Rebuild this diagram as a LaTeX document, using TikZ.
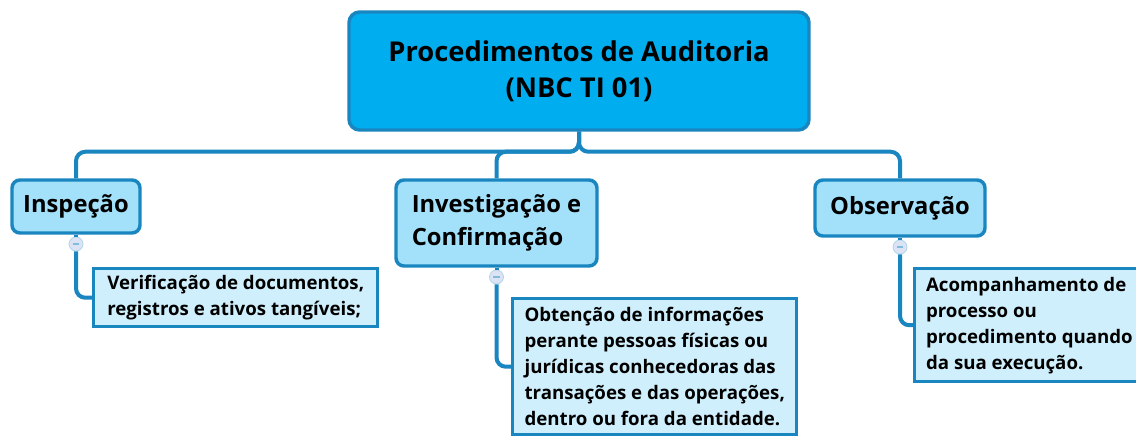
\documentclass[tikz,border=0pt]{standalone}
\usepackage{fontspec}
\setmainfont{Open Sans}
\usetikzlibrary{positioning}

\definecolor{rootblue}{HTML}{00AEEF}
\definecolor{edgeblue}{HTML}{1A86C0}
\definecolor{childblue}{HTML}{A3E1FB}
\definecolor{leafblue}{HTML}{CFEFFC}
\definecolor{knobfill}{HTML}{DCE3F5}

\begin{document}
\begin{tikzpicture}[x=0.75pt, y=-0.75pt,
    rootbox/.style={draw=edgeblue, fill=rootblue, line width=2.6pt, rounded corners=8pt,
        minimum width=345pt, minimum height=88.5pt, align=center,
        font=\bfseries\fontsize{20.5}{27}\selectfont},
    childbox/.style={draw=edgeblue, fill=childblue, line width=2.6pt, rounded corners=6pt,
        align=left, inner sep=0pt, font=\bfseries\fontsize{17.8}{24.75}\selectfont},
    leafbox/.style={draw=edgeblue, fill=leafblue, line width=2.6pt, anchor=north west,
        align=left, inner xsep=8.5pt, inner ysep=0pt, font=\bfseries\fontsize{14}{19.5}\selectfont},
    knob/.style={circle, draw=edgeblue!35, fill=knobfill, line width=0.6pt, minimum size=10.5pt, inner sep=0pt,
        path picture={\draw[edgeblue!55, line width=0.8pt]
            ([xshift=-2.6pt]path picture bounding box.center) -- ([xshift=2.6pt]path picture bounding box.center);}},
    link/.style={draw=edgeblue, line width=3pt, rounded corners=7pt}]
    \useasboundingbox (0,0) rectangle (1136,436);
    \clip (0,0) rectangle (1136,436);

    % Nodes
    \node[rootbox] (root) at (579,71) {Procedimentos de Auditoria\\(NBC TI 01)};
    \node[childbox, minimum width=96pt, minimum height=39.75pt] (insp) at (76,206.5) {Inspeção};
    \node[childbox, minimum width=150.75pt, minimum height=64.5pt] (invest) at (496.5,223) {Investigação e\\Confirmação};
    \node[childbox, minimum width=127.5pt, minimum height=42pt] (obs) at (900,208) {Observação};

    % Collapse knobs
    \node[knob] (kinsp) at (76,244) {};
    \node[knob] (kinvest) at (496.5,277) {};
    \node[knob] (kobs) at (900,247) {};

    % Leaves
    \node[leafbox, minimum width=213pt, minimum height=43.5pt] (linsp) at (92,267)
        {Verificação de documentos,\\registros e ativos tangíveis;};
    \node[leafbox, minimum width=213pt, minimum height=102pt] (linvest) at (511,297)
        {Obtenção de informações\\perante pessoas físicas ou\\jurídicas conhecedoras das\\transações e das operações,\\dentro ou fora da entidade.};
    \node[leafbox, minimum height=84.75pt] (lobs) at (913,267)
        {Acompanhamento de\\processo ou\\procedimento quando\\da sua execução.};

    % Connectors from the root
    \draw[link] (root.south) -- ++(0,20) -| (insp.north);
    \draw[link] (root.south) -- ++(0,20) -| (invest.north);
    \draw[link] (root.south) -- ++(0,20) -| (obs.north);

    % Connectors to the leaves
    \draw[link] (insp) -- (kinsp);
    \draw[link] (kinsp) |- (linsp.west);
    \draw[link] (invest) -- (kinvest);
    \draw[link] (kinvest) |- (linvest.west);
    \draw[link] (obs) -- (kobs);
    \draw[link] (kobs) |- (lobs.west);
\end{tikzpicture}
\end{document}
